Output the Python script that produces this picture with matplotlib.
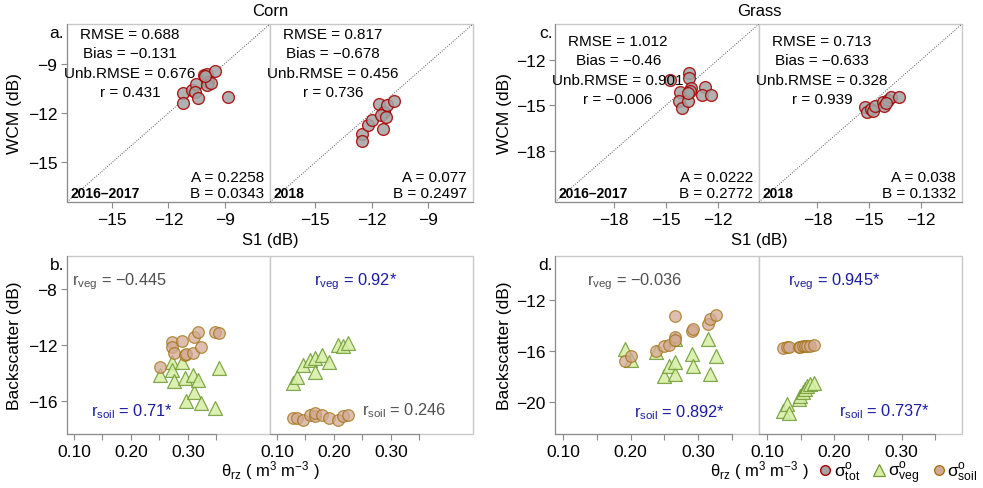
import matplotlib
matplotlib.use('Agg')
import matplotlib.pyplot as plt
from matplotlib.patches import Rectangle
from matplotlib.lines import Line2D

plt.rcParams['font.family'] = ['Liberation Sans', 'DejaVu Sans']
plt.rcParams['mathtext.fontset'] = 'custom'
plt.rcParams['mathtext.rm'] = 'Liberation Sans'
plt.rcParams['mathtext.it'] = 'Liberation Sans:italic'
plt.rcParams['mathtext.bf'] = 'Liberation Sans:bold'

# ---- top row: S1 vs WCM (dB)
corn_s1_1617 = [-11.25, -11.25, -10.77, -10.54, -10.6, -10.45, -10.11, -9.94, -9.88, -9.97, -9.76, -9.53, -8.85, -10.05]
corn_wcm_1617 = [-10.78, -11.39, -10.58, -10.24, -10.74, -11.1, -9.69, -9.63, -10.1, -10.3, -10.15, -9.43, -11.0, -9.75]
corn_s1_18 = [-12.49, -12.49, -12.17, -11.99, -11.6, -11.33, -11.51, -11.19, -10.78, -11.37, -11.25]
corn_wcm_18 = [-13.27, -13.67, -12.7, -12.4, -11.45, -11.95, -12.12, -11.51, -11.25, -12.96, -12.26]
grass_s1_1617 = [-14.75, -14.17, -14.21, -14.08, -13.69, -13.64, -13.64, -13.56, -13.6, -13.69, -12.73, -12.92, -12.4]
grass_wcm_1617 = [-13.33, -14.14, -14.71, -15.15, -14.71, -12.82, -13.17, -13.83, -14.05, -14.2, -13.77, -14.31, -14.31]
grass_s1_18 = [-15.22, -15.14, -14.89, -14.75, -14.64, -14.21, -14.12, -13.93, -13.7, -13.29, -14.02]
grass_wcm_18 = [-15.08, -15.41, -15.24, -15.37, -15.02, -14.75, -15.02, -14.64, -14.42, -14.47, -14.86]

top_stats = {
    'corn_1617': ['RMSE = 0.688', 'Bias = −0.131', 'Unb.RMSE = 0.676', 'r = 0.431'],
    'corn_18': ['RMSE = 0.817', 'Bias = −0.678', 'Unb.RMSE = 0.456', 'r = 0.736'],
    'grass_1617': ['RMSE = 1.012', 'Bias = −0.46', 'Unb.RMSE = 0.901', 'r = −0.006'],
    'grass_18': ['RMSE = 0.713', 'Bias = −0.633', 'Unb.RMSE = 0.328', 'r = 0.939'],
}
top_ab = {
    'corn_1617': ['A = 0.2258', 'B = 0.0343'],
    'corn_18': ['A = 0.077', 'B = 0.2497'],
    'grass_1617': ['A = 0.0222', 'B = 0.2772'],
    'grass_18': ['A = 0.038', 'B = 0.1332'],
}

# ---- bottom row: root-zone soil moisture vs backscatter components
corn_sm_1617 = [0.251, 0.272, 0.272, 0.275, 0.289, 0.295, 0.297, 0.309, 0.310, 0.317, 0.323, 0.348, 0.354]
corn_soil_1617 = [-13.55, -11.81, -12.12, -12.6, -11.7, -12.7, -12.67, -12.6, -11.41, -11.05, -12.12, -11.05, -11.12]
corn_veg_1617 = [-14.15, -13.19, -13.79, -14.62, -13.19, -14.39, -16.0, -14.19, -15.39, -14.55, -16.17, -16.53, -13.62]
corn_sm_18 = [0.129, 0.135, 0.146, 0.158, 0.167, 0.167, 0.180, 0.192, 0.208, 0.216, 0.224]
corn_soil_18 = [-17.24, -17.24, -17.36, -17.05, -17.12, -16.89, -17.0, -17.24, -17.36, -17.12, -17.0]
corn_veg_18 = [-14.74, -14.27, -13.44, -13.08, -12.96, -13.91, -12.72, -13.19, -12.01, -12.06, -11.89]
grass_sm_1617 = [0.192, 0.200, 0.237, 0.249, 0.257, 0.265, 0.265, 0.266, 0.291, 0.292, 0.315, 0.318, 0.326]
grass_soil_1617 = [-16.76, -16.42, -15.98, -15.63, -15.53, -14.93, -13.23, -15.1, -14.41, -14.27, -13.88, -13.49, -13.18]
grass_veg_1617 = [-15.84, -16.68, -16.1, -17.94, -17.2, -15.06, -17.8, -16.89, -16.24, -17.15, -15.06, -17.8, -16.37]
grass_sm_18 = [0.124, 0.129, 0.133, 0.147, 0.149, 0.154, 0.157, 0.159, 0.164, 0.170]
grass_soil_18 = [-15.75, -15.71, -15.71, -15.68, -15.66, -15.62, -15.64, -15.6, -15.58, -15.55]
grass_veg_18 = [-20.68, -20.16, -20.86, -19.77, -19.5, -19.24, -18.98, -18.72, -18.59, -18.5]

r_labels = {
    'corn_1617': ('−0.445', False, '0.71*', True),
    'corn_18': ('0.92*', True, '0.246', False),
    'grass_1617': ('−0.036', False, '0.892*', True),
    'grass_18': ('0.945*', True, '0.737*', True),
}

W, H = 983, 489
fig = plt.figure(figsize=(W / 100, H / 100), dpi=100)

BORDER = '#c8c8c8'
AXLINE = '#8a8a8a'
BLUE = '#1c1ca0'
GREY = '#505050'
TOT = dict(marker='o', s=72, facecolor='#a4a4a4', edgecolor='#a80000', linewidth=1.0, alpha=0.85)
VEG = dict(marker='^', s=100, facecolor='#d6eea4', edgecolor='#6f9a35', linewidth=0.9, alpha=0.85)
SOIL = dict(marker='o', s=70, facecolor='#d3a994', edgecolor='#a0700f', linewidth=0.9, alpha=0.75)


def add_ax(x0, y0, x1, y1):
    return fig.add_axes([x0 / W, 1 - y1 / H, (x1 - x0) / W, (y1 - y0) / H])


def style(ax, left_axis, xb=None):
    for s in ax.spines.values():
        s.set_visible(False)
    ax.add_patch(Rectangle((0, 0), 1, 1, transform=ax.transAxes, fill=False,
                           ec=BORDER, lw=1.0, clip_on=False, zorder=0))
    ax.spines['bottom'].set_visible(True)
    ax.spines['bottom'].set_color(AXLINE)
    if xb is not None:
        ax.spines['bottom'].set_bounds(*xb)
    if left_axis:
        ax.spines['left'].set_visible(True)
        ax.spines['left'].set_color(AXLINE)
    else:
        ax.set_yticks([])
    ax.tick_params(which='both', color=AXLINE, labelsize=12.5, length=4, width=0.8, pad=3)


def top_panel(ax, s1, wcm, lims, ticks, key, year, left_axis, ystat):
    ax.plot(lims, lims, ls=(0, (1, 1.5)), color='#555555', lw=0.7, zorder=1)
    ax.scatter(s1, wcm, zorder=3, **TOT)
    ax.set_xlim(lims)
    ax.set_ylim(lims)
    ax.set_xticks(ticks)
    if left_axis:
        ax.set_yticks(ticks)
    style(ax, left_axis)
    for line, y in zip(top_stats[key], ystat):
        ax.text(0.31, y, line, transform=ax.transAxes, ha='center', va='center', fontsize=11)
    ax.text(0.97, 0.14, top_ab[key][0], transform=ax.transAxes, ha='right', va='center', fontsize=11)
    ax.text(0.97, 0.05, top_ab[key][1], transform=ax.transAxes, ha='right', va='center', fontsize=11)
    ax.text(0.015, 0.05, year, transform=ax.transAxes, ha='left', va='center',
            fontsize=10, fontweight='bold')


def bottom_panel(ax, sm, veg, soil, xlim, ylim, yticks, key, left_axis, pos):
    ax.scatter(sm, veg, zorder=3, **VEG)
    ax.scatter(sm, soil, zorder=4, **SOIL)
    ax.set_xlim(xlim)
    ax.set_ylim(ylim)
    ax.set_xticks([0.10, 0.20, 0.30])
    ax.set_xticklabels(['0.10', '0.20', '0.30'])
    ax.set_xticks([0.15, 0.25, 0.35], minor=True)
    if left_axis:
        ax.set_yticks(yticks)
    style(ax, left_axis, xb=(xlim[0], 0.35))
    rv, rv_sig, rs, rs_sig = r_labels[key]
    (vx, vy, vha), (sx, sy, sha) = pos
    ax.text(vx, vy, r'r$_{\mathrm{veg}}$ = ' + rv, transform=ax.transAxes, ha=vha, va='center',
            fontsize=11.8, color=BLUE if rv_sig else GREY)
    ax.text(sx, sy, r'r$_{\mathrm{soil}}$ = ' + rs, transform=ax.transAxes, ha=sha, va='center',
            fontsize=11.8, color=BLUE if rs_sig else GREY)


corn_lims = (-17.4, -6.6)
grass_lims = (-21.4, -9.6)
corn_y = [0.944, 0.837, 0.725, 0.618]
grass_y = [0.905, 0.795, 0.685, 0.58]

a1 = add_ax(67, 25, 270, 203)
a2 = add_ax(270, 25, 473, 203)
c1 = add_ax(555, 25, 759, 203)
c2 = add_ax(759, 25, 962, 203)
top_panel(a1, corn_s1_1617, corn_wcm_1617, corn_lims, [-15, -12, -9], 'corn_1617', '2016–2017', True, corn_y)
top_panel(a2, corn_s1_18, corn_wcm_18, corn_lims, [-15, -12, -9], 'corn_18', '2018', False, corn_y)
top_panel(c1, grass_s1_1617, grass_wcm_1617, grass_lims, [-18, -15, -12], 'grass_1617', '2016–2017', True, grass_y)
top_panel(c2, grass_s1_18, grass_wcm_18, grass_lims, [-18, -15, -12], 'grass_18', '2018', False, grass_y)

b1 = add_ax(67, 257, 270, 435)
b2 = add_ax(270, 257, 473, 435)
d1 = add_ax(555, 257, 759, 435)
d2 = add_ax(759, 257, 962, 435)
corn_xl, corn_yl = (0.088, 0.444), (-18.4, -5.6)
grass_xl, grass_yl = (0.088, 0.39), (-22.5, -8.55)
bottom_panel(b1, corn_sm_1617, corn_veg_1617, corn_soil_1617, corn_xl, corn_yl, [-16, -12, -8], 'corn_1617', True,
             ((0.025, 0.86, 'left'), (0.32, 0.13, 'center')))
bottom_panel(b2, corn_sm_18, corn_veg_18, corn_soil_18, corn_xl, corn_yl, [-16, -12, -8], 'corn_18', False,
             ((0.42, 0.86, 'center'), (0.66, 0.135, 'center')))
bottom_panel(d1, grass_sm_1617, grass_veg_1617, grass_soil_1617, grass_xl, grass_yl, [-20, -16, -12], 'grass_1617', True,
             ((0.39, 0.86, 'center'), (0.61, 0.124, 'center')))
bottom_panel(d2, grass_sm_18, grass_veg_18, grass_soil_18, grass_xl, grass_yl, [-20, -16, -12], 'grass_18', False,
             ((0.37, 0.86, 'center'), (0.62, 0.13, 'center')))

# labels
def ftext(x, y, s, **kw):
    fig.text(x / W, 1 - y / H, s, ha=kw.pop('ha', 'center'), va=kw.pop('va', 'center'), **kw)

ftext(270, 12, 'Corn', fontsize=12)
ftext(759, 12, 'Grass', fontsize=12)
ftext(270, 240, 'S1 (dB)', fontsize=12)
ftext(759, 240, 'S1 (dB)', fontsize=12)
xl = r'θ$_{\mathrm{rz}}$ ( m$^{3}$ m$^{-3}$ )'
ftext(270, 471, xl, fontsize=12)
ftext(759, 471, xl, fontsize=12)
ftext(15, 114, 'WCM (dB)', fontsize=12.5, rotation=90)
ftext(505, 114, 'WCM (dB)', fontsize=12.5, rotation=90)
ftext(15, 346, 'Backscatter (dB)', fontsize=12.5, rotation=90)
ftext(505, 346, 'Backscatter (dB)', fontsize=12.5, rotation=90)
ftext(64, 33, 'a.', fontsize=12.5, ha='right')
ftext(64, 265, 'b.', fontsize=12.5, ha='right')
ftext(553, 33, 'c.', fontsize=12.5, ha='right')
ftext(553, 265, 'd.', fontsize=12.5, ha='right')

handles = [
    Line2D([], [], ls='none', marker='o', ms=7, mfc='#a4a4a4', mec='#a80000', mew=1.0),
    Line2D([], [], ls='none', marker='^', ms=8, mfc='#d6eea4', mec='#6f9a35', mew=0.9),
    Line2D([], [], ls='none', marker='o', ms=7, mfc='#d3a994', mec='#a0700f', mew=0.9),
]
labels = [r'σ$^{\mathrm{o}}_{\mathrm{tot}}$', r'σ$^{\mathrm{o}}_{\mathrm{veg}}$', r'σ$^{\mathrm{o}}_{\mathrm{soil}}$']
fig.legend(handles, labels, loc='center', bbox_to_anchor=(897 / W, 1 - 474 / H), ncol=3, frameon=False,
           fontsize=12.5, handletextpad=0.0, columnspacing=0.6, handlelength=1.0, borderpad=0)

fig.savefig('out.png', dpi=100)
